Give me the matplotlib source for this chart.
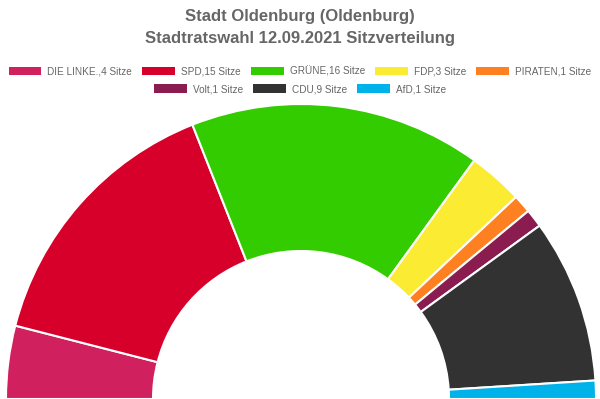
import matplotlib.pyplot as plt
from matplotlib.patches import Patch

parties = ["DIE LINKE.", "SPD", "GRÜNE", "FDP", "PIRATEN", "Volt", "CDU", "AfD"]
seats = [4, 15, 16, 3, 1, 1, 9, 1]
colors = ["#d0205e", "#d6002a", "#33cc00", "#fbeb32", "#ff8020", "#8a1c50", "#323232", "#00b2ea"]

plt.rcParams['font.family'] = ['Liberation Sans', 'DejaVu Sans']

fig = plt.figure(figsize=(6, 3.99), dpi=100)
ax = fig.add_axes([0, 0, 1, 1])

# half donut: add an invisible wedge for the lower half
vals = seats + [sum(seats)]
cols = colors + ["none"]
wedges, _ = ax.pie(vals, colors=cols, startangle=180, counterclock=False,
                   center=(301, 0), radius=295,
                   wedgeprops=dict(width=147, edgecolor="white", linewidth=1.5))
wedges[-1].set_edgecolor("none")

ax.set_xlim(0, 600)
ax.set_ylim(0, 399)
ax.set_aspect("equal")
ax.axis("off")

fig.text(0.5, 1 - 17 / 399, "Stadt Oldenburg (Oldenburg)", ha="center", va="center",
         fontsize=12, fontweight="bold", color="#666666")
fig.text(0.5, 1 - 38 / 399, "Stadtratswahl 12.09.2021 Sitzverteilung", ha="center", va="center",
         fontsize=12, fontweight="bold", color="#666666")

labels = [f"{p},{s} Sitze" for p, s in zip(parties, seats)]
handles = [Patch(facecolor=c, edgecolor="none") for c in colors]

leg_kw = dict(loc="center", frameon=False, fontsize=7.2, handlelength=3.3, handleheight=0.9,
              handletextpad=0.6, columnspacing=1.0, labelcolor="#666666")
fig.legend(handles[:5], labels[:5], bbox_to_anchor=(0.5, 1 - 71 / 399), ncol=5, **leg_kw)
fig.legend(handles[5:], labels[5:], bbox_to_anchor=(0.5, 1 - 89 / 399), ncol=3, **leg_kw)

fig.savefig("out.png", dpi=100)
